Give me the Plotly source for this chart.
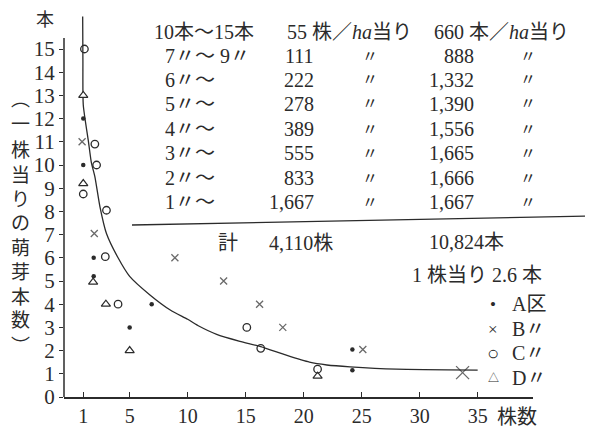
import plotly.graph_objects as go

# ---------------- data ----------------
# A区 (dots)
a_x = [1.0, 1.0, 1.9, 1.9, 6.9, 5.0, 24.2, 24.2]
a_y = [12.0, 10.0, 6.0, 5.2, 4.0, 3.0, 2.05, 1.15]
# B区 (crosses)
b_x = [0.9, 1.95, 8.9, 13.1, 16.2, 18.2, 25.1, 33.7]
b_y = [11.0, 7.05, 6.0, 5.0, 4.0, 3.0, 2.05, 1.05]
# C区 (circles)
c_x = [1.1, 2.0, 2.15, 3.0, 2.9, 4.0, 15.1, 16.3, 21.2, 1.0]
c_y = [15.0, 10.9, 10.0, 8.05, 6.05, 4.0, 3.0, 2.1, 1.2, 8.75]
# D区 (triangles)
d_x = [1.0, 1.0, 1.85, 2.95, 5.0, 21.2]
d_y = [13.0, 9.2, 4.95, 4.0, 2.0, 0.9]
# hand-drawn trend curve
curve_x = [0.95, 0.97, 1.0, 1.45, 1.7, 2.0, 2.44, 3.0, 4.0, 5.0, 6.75, 8.5,
           10.0, 11.0, 12.5, 14.5, 16.3, 18.5, 20.5, 22.0, 24.0, 28.0, 35.0]
curve_y = [16.4, 14.5, 12.6, 11.0, 10.1, 9.5, 8.2, 7.05, 6.0, 5.2, 4.4, 3.75,
           3.35, 3.05, 2.7, 2.4, 2.17, 1.8, 1.5, 1.38, 1.3, 1.2, 1.16]

x_ticks = [1, 5, 10, 15, 20, 25, 30, 35]
y_ticks = list(range(0, 16))

# table text
row_labels = ["10本～15本", "7〃～ 9〃", "6〃～", "5〃～", "4〃～", "3〃～", "2〃～", "1〃～"]
stock_head = "55 株／<i>ha</i>当り"
stock_vals = ["111", "222", "278", "389", "555", "833", "1,667"]
sprout_head = "660 本／<i>ha</i>当り"
sprout_vals = ["888", "1,332", "1,390", "1,556", "1,665", "1,666", "1,667"]
ditto = "〃"
total_label = "計"
total_stock = "4,110株"
total_sprout = "10,824本"
per_stock = "1 株当り 2.6 本"
legend_syms = ["•", "×", "○", "△"]
legend_labels = ["A区", "B〃", "C〃", "D〃"]
y_title_chars = ["︵", "一", "株", "当", "り", "の", "萌", "芽", "本", "数", "︶"]
y_unit = "本"
x_unit = "株数"

# ---------------- layout geometry ----------------
# the page body adds an 8px margin, so the figure is 8px smaller and
# every page position below is given in page pixels.
BODY = 8
W, H = 593 - BODY, 430 - BODY
ML, MR, MT, MB = 64 - BODY, 60, 12 - BODY, 33
PW, PH = W - ML - MR, H - MT - MB
XPU, YPU = 11.6, 23.2          # pixels per unit
X0 = -0.66
Y_AXIS_TOP = 15.47

INK = "#2b2b2b"
SERIF = "Liberation Serif, Noto Sans CJK JP, serif"


def px(xp):
    return (xp - BODY - ML) / PW


def py(yp):
    return (H + BODY - MB - yp) / PH


fig = go.Figure()

fig.add_trace(go.Scatter(x=curve_x, y=curve_y, mode="lines",
                         line=dict(color=INK, width=1.3, shape="spline", smoothing=0.6),
                         hoverinfo="skip", showlegend=False))
fig.add_trace(go.Scatter(x=d_x, y=d_y, mode="markers", name="D",
                         marker=dict(symbol="triangle-up", size=8, color="white",
                                     line=dict(color=INK, width=1.2)),
                         showlegend=False, cliponaxis=False))
fig.add_trace(go.Scatter(x=c_x, y=c_y, mode="markers", name="C",
                         marker=dict(symbol="circle-open", size=7.5, color=INK,
                                     line=dict(color=INK, width=1.3)),
                         showlegend=False, cliponaxis=False))
b_sizes = [13 if v > 30 else 7 for v in b_x]
fig.add_trace(go.Scatter(x=b_x, y=b_y, mode="markers", name="B",
                         marker=dict(symbol="x-thin", size=b_sizes, color=INK,
                                     line=dict(color=INK, width=1.3)),
                         showlegend=False, cliponaxis=False))
fig.add_trace(go.Scatter(x=a_x, y=a_y, mode="markers", name="A",
                         marker=dict(symbol="circle", size=4.5, color=INK),
                         showlegend=False, cliponaxis=False))

ann = []


def add(text, xp, yp, xa="center", size=20):
    ann.append(dict(text=text, x=px(xp), y=py(yp), xref="paper", yref="paper",
                    xanchor=xa, yanchor="middle", showarrow=False,
                    font=dict(family=SERIF, size=size, color=INK)))


row_y = [32, 56, 80, 104, 129, 153, 178, 202]
for i, lab in enumerate(row_labels):
    add(lab, 152 if i == 0 else 163, row_y[i], "left")
add(stock_head, 285, row_y[0], "left")
add(sprout_head, 432, row_y[0], "left")
for i, (s, t) in enumerate(zip(stock_vals, sprout_vals)):
    yy = row_y[i + 1]
    add(s, 316, yy, "right")
    add(ditto, 370, yy, "center", 16)
    add(t, 476, yy, "right")
    add(ditto, 528, yy, "center", 16)

add(total_label, 228, 243)
add(total_stock, 267, 243, "left")
add(total_sprout, 427, 242, "left")
add(per_stock, 410, 275, "left")

leg_y = [304, 329, 353, 378]
leg_sizes = [17, 17, 20, 11]
for s, lab, yy, sz in zip(legend_syms, legend_labels, leg_y, leg_sizes):
    add(s, 493, yy, "center", sz)
    add(lab, 510, yy, "left")

for ch, yy in zip(y_title_chars, [100, 124, 150, 175, 199, 223, 248, 272, 297, 320, 346]):
    add(ch, 20, yy, "center", 19)
add(y_unit, 45, 20, "center", 18)
add(x_unit, 495, 417, "left")

shapes = [
    dict(type="line", xref="paper", yref="paper", x0=px(132), y0=py(225), x1=px(593), y1=py(216),
         line=dict(color=INK, width=1.3)),
    dict(type="line", xref="paper", yref="y", x0=0, x1=0, y0=0, y1=Y_AXIS_TOP,
         line=dict(color=INK, width=1.5)),
]

fig.update_layout(
    template="none",
    width=W, height=H,
    margin=dict(l=ML, r=MR, t=MT, b=MB, pad=0, autoexpand=False),
    paper_bgcolor="white", plot_bgcolor="white",
    annotations=ann, shapes=shapes,
    xaxis=dict(range=[X0, X0 + PW / XPU], tickvals=x_ticks, ticktext=[str(v) for v in x_ticks],
               showgrid=False, zeroline=False, showline=True, linecolor=INK, linewidth=1.5,
               ticks="inside", ticklen=5, tickcolor=INK, tickwidth=1.2, automargin=False,
               tickfont=dict(family=SERIF, size=20, color=INK)),
    yaxis=dict(range=[0, PH / YPU], tickvals=y_ticks, ticktext=[str(v) for v in y_ticks],
               showgrid=False, zeroline=False, showline=False, automargin=False,
               ticks="outside", ticklen=4, tickcolor=INK, tickwidth=1.2,
               tickfont=dict(family=SERIF, size=21, color=INK)),
    showlegend=False,
)

fig.write_html("out.html")
